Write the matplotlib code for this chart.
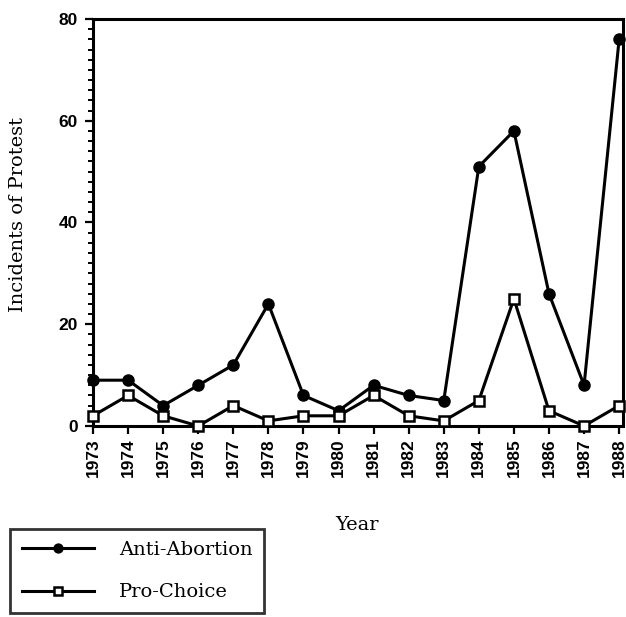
import matplotlib
matplotlib.use("Agg")
import matplotlib.pyplot as plt
from matplotlib.ticker import MultipleLocator

# Data
years = [1973, 1974, 1975, 1976, 1977, 1978, 1979, 1980,
         1981, 1982, 1983, 1984, 1985, 1986, 1987, 1988]
anti_abortion = [9, 9, 4, 8, 12, 24, 6, 3, 8, 6, 5, 51, 58, 26, 8, 76]
pro_choice = [2, 6, 2, 0, 4, 1, 2, 2, 6, 2, 1, 5, 25, 3, 0, 4]
y_ticks = [0, 20, 40, 60, 80]

serif = "DejaVu Serif"
sans = "Liberation Sans"

fig = plt.figure(figsize=(6.26, 6.17), dpi=100)
ax = fig.add_axes([0.1486, 0.3096, 0.8466, 0.6596])

ax.plot(years, anti_abortion, color="black", linewidth=2.2, marker="o",
        markersize=8, markerfacecolor="black", markeredgecolor="black",
        clip_on=False, zorder=3, label="Anti-Abortion")
ax.plot(years, pro_choice, color="black", linewidth=2.2, marker="s",
        markersize=7, markerfacecolor="white", markeredgecolor="black",
        markeredgewidth=1.8, clip_on=False, zorder=4, label="Pro-Choice")

ax.set_xlim(1973, 1988.11)
ax.set_ylim(0, 80)
ax.set_xticks(years)
ax.set_xticklabels([str(y) for y in years], rotation=90,
                   fontfamily=sans, fontweight="bold", fontsize=12.5)
ax.set_yticks(y_ticks)
ax.set_yticklabels([str(v) for v in y_ticks], fontfamily=sans,
                   fontweight="bold", fontsize=12.5)
ax.yaxis.set_minor_locator(MultipleLocator(2))

for side in ["left", "right", "top", "bottom"]:
    ax.spines[side].set_linewidth(2.2)

ax.tick_params(axis="x", direction="out", length=6, width=1.6, pad=3)
ax.tick_params(axis="y", which="major", direction="out", length=6,
               width=1.6, pad=5)
ax.tick_params(axis="y", which="minor", direction="out", length=3.5,
               width=1.4)

ax.set_ylabel("Incidents of Protest", fontfamily=serif, fontsize=14)
ax.set_xlabel("Year", fontfamily=serif, fontsize=14)
ax.yaxis.set_label_coords(-0.125, 0.52)
ax.xaxis.set_label_coords(0.498, -0.22)

leg = fig.legend(loc="lower left", bbox_to_anchor=(0.016, 0.0065),
                 prop={"family": serif, "size": 14}, frameon=True,
                 fancybox=False, edgecolor="black", handlelength=3.7,
                 handletextpad=1.3, labelspacing=1.26, borderpad=0.6,
                 borderaxespad=0, markerscale=0.8)
leg.get_frame().set_linewidth(2.0)

fig.savefig("out.png", dpi=100)
